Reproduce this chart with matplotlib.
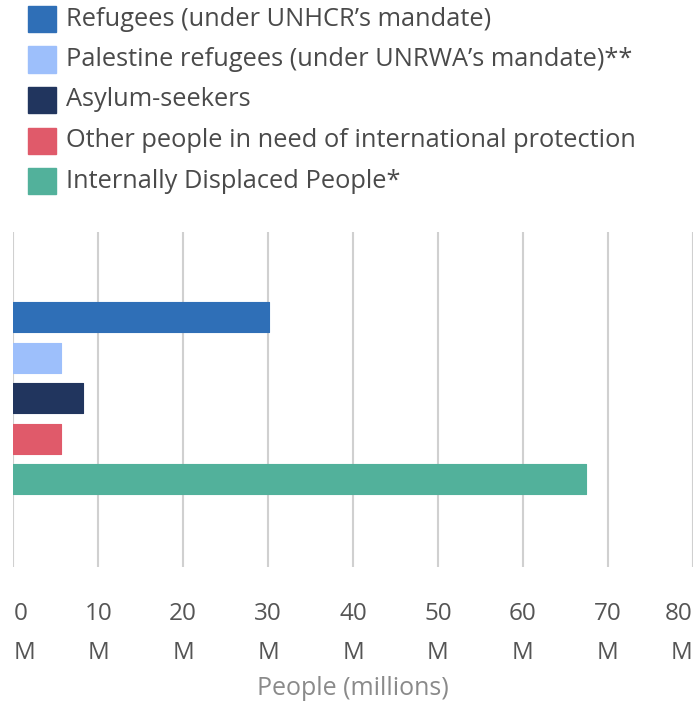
import matplotlib.pyplot as plt
from matplotlib.patches import Rectangle

categories = [
    "Refugees (under UNHCR\u2019s mandate)",
    "Palestine refugees (under UNRWA\u2019s mandate)**",
    "Asylum-seekers",
    "Other people in need of international protection",
    "Internally Displaced People*",
]
values = [30.1, 5.6, 8.2, 5.6, 67.4]  # millions
colors = ["#2f6fb7", "#9dbffb", "#21355e", "#e05a6a", "#52b19b"]
ticks = [0, 10, 20, 30, 40, 50, 60, 70, 80]
tick_labels = [f"{t}\nM" for t in ticks]

plt.rcParams["font.family"] = ["Open Sans", "DejaVu Sans"]

W, H = 694, 702
fig = plt.figure(figsize=(W / 100, H / 100), dpi=100)

# axes box in pixels: x 13.3..692.7, y 232..567
ax = fig.add_axes([13.3 / W, (H - 567) / H, (692.7 - 13.3) / W, (567 - 232) / H])

ypos = list(range(len(values)))
ax.barh(ypos, values, height=0.74, color=colors, edgecolor=colors,
        linewidth=0.8, joinstyle="round", zorder=3)

ax.set_xlim(0, 80)
ax.set_ylim(4 + 2.17, -2.1)
ax.set_yticks([])
ax.set_xticks(ticks)
ax.set_xticklabels(tick_labels, fontsize=17.5, color="#555555", linespacing=1.85)
ax.tick_params(axis="x", length=0, pad=25)
labels = ax.get_xticklabels()
labels[0].set_ha("left")
labels[-1].set_ha("right")
ax.grid(axis="x", color="#d0d0d0", linewidth=1.5, zorder=0)
for s in ax.spines.values():
    s.set_visible(False)

ax.set_xlabel("People (millions)", fontsize=18, color="#8a8a8a", labelpad=8)

# legend drawn by hand
for i, (lab, c) in enumerate(zip(categories, colors)):
    yc = 19 + i * 40.5
    fig.patches.append(Rectangle((28 / W, 1 - (yc + 13) / H), 28 / W, 26 / H,
                                 transform=fig.transFigure, color=c))
    fig.text(66 / W, 1 - yc / H, lab, fontsize=18.3, color="#4a4a4a",
             va="center", ha="left")

fig.savefig("out.png", dpi=100)
